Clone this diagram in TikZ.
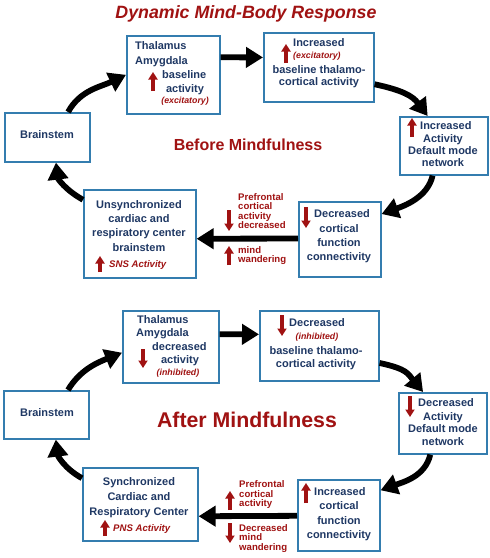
\documentclass[tikz,border=0pt]{standalone}
\usepackage{fontspec}
\setmainfont{Liberation Sans}
\usetikzlibrary{arrows.meta,calc}
\definecolor{navy}{RGB}{31,56,100}
\definecolor{dred}{RGB}{160,18,18}
\definecolor{boxblue}{RGB}{52,125,175}
\begin{document}
\begin{tikzpicture}[x=1pt,y=-1pt,
  box/.style={draw=boxblue,line width=1.6pt,fill=white,inner sep=0pt,anchor=north west},
  txt/.style={text=navy,font=\bfseries\fontsize{11}{14}\selectfont,inner sep=0pt},
  rtxt/.style={text=dred,font=\bfseries\fontsize{9.6}{9.4}\selectfont,inner sep=0pt,anchor=mid west},
  itxt/.style={text=dred,font=\bfseries\itshape\fontsize{8.8}{10}\selectfont,inner sep=0pt},
  stxt/.style={text=dred,font=\bfseries\itshape\fontsize{9.6}{10}\selectfont,inner sep=0pt,anchor=mid west},
  flow/.style={line width=5.8pt,-{Triangle[length=17pt,width=20pt]}},
  redarr/.style={draw=dred,line width=3.1pt,-{Triangle[length=7.5pt,width=9pt]}}]
\useasboundingbox (0,0) rectangle (490,558);
\fill[white] (0,0) rectangle (490,558);
% ================= TOP =================
\node[text=dred,font=\bfseries\itshape\fontsize{17.8}{20}\selectfont,inner sep=0pt,anchor=mid] (title) at (246,16) {Dynamic Mind-Body Response};
\node[text=dred,font=\bfseries\fontsize{16}{18}\selectfont,inner sep=0pt,anchor=mid] (before) at (248,148) {Before Mindfulness};
% boxes
\node[box,minimum width=93pt,minimum height=78pt] (thal1) at (126,35) {};
\node[box,minimum width=110pt,minimum height=69pt] (inc1) at (263,32) {};
\node[box,minimum width=85pt,minimum height=49pt] (brain1) at (4,112) {};
\node[box,minimum width=88pt,minimum height=58pt] (dmn1) at (399,116) {};
\node[box,minimum width=112pt,minimum height=88pt] (uns1) at (83,189) {};
\node[box,minimum width=82pt,minimum height=75pt] (dec1) at (298,201) {};
% thalamus 1
\node[txt,anchor=mid west] (t1a) at (135,47) {Thalamus};
\node[txt,anchor=mid west] (t1b) at (135,62) {Amygdala};
\node[txt,anchor=mid west] (t1c) at (162,76) {baseline};
\node[txt,anchor=mid] (t1d) at (185,90) {activity};
\node[itxt,anchor=mid east] (t1e) at (209,101) {(excitatory)};
\draw[redarr] (153,91) -- (153,72);
% increased 1
\node[txt,anchor=mid west] (i1a) at (293,44) {Increased};
\node[itxt,anchor=mid west] (i1b) at (293,56) {(excitatory)};
\node[txt,anchor=mid] (i1c) at (319,71) {baseline thalamo-};
\node[txt,anchor=mid] (i1d) at (319,83) {cortical activity};
\draw[redarr] (286,63) -- (286,44);
% brainstem 1
\node[txt,anchor=mid] (b1a) at (47,136) {Brainstem};
% dmn 1
\node[txt,anchor=mid west] (d1a) at (420,127) {Increased};
\node[txt,anchor=mid] (d1b) at (443,140) {Activity};
\node[txt,anchor=mid] (d1c) at (443,152) {Default mode};
\node[txt,anchor=mid] (d1d) at (443,164) {network};
\draw[redarr] (412,137) -- (412,118);
% unsynchronized
\node[txt,anchor=mid] (u1a) at (139,206) {Unsynchronized};
\node[txt,anchor=mid] (u1b) at (139,220) {cardiac and};
\node[txt,anchor=mid] (u1c) at (139,234) {respiratory center};
\node[txt,anchor=mid] (u1d) at (139,249) {brainstem};
\node[stxt] (u1e) at (109,265) {SNS Activity};
\draw[redarr] (100,272) -- (100,256);
% decreased cortical
\node[txt,anchor=mid west] (c1a) at (314,215) {Decreased};
\node[txt,anchor=mid] (c1b) at (339,230) {cortical};
\node[txt,anchor=mid] (c1c) at (339,244) {function};
\node[txt,anchor=mid] (c1d) at (339,258) {connectivity};
\draw[redarr] (306,207) -- (306,228);
% labels between
\node[rtxt] (p1a) at (238,198) {Prefrontal};
\node[rtxt] (p1b) at (238,207) {cortical};
\node[rtxt] (p1c) at (238,217) {activity};
\node[rtxt] (p1d) at (238,226) {decreased};
\draw[redarr] (229,210) -- (229,231);
\node[rtxt] (m1a) at (238,251) {mind};
\node[rtxt] (m1b) at (238,260) {wandering};
\draw[redarr] (229,265) -- (229,246);
% flow arrows top
\draw[flow] ($(brain1.north west)!0.74!(brain1.north east)$) .. controls +(12,-22) and +(-25,12) .. (thal1.west);
\draw[flow] ($(thal1.north east)!0.28!(thal1.south east)$) -- ($(inc1.north west)!0.36!(inc1.south west)$);
\draw[flow] ($(inc1.north east)!0.74!(inc1.south east)$) .. controls +(28,6) and +(-15,-20) .. ($(dmn1.north west)!0.32!(dmn1.north east)$);
\draw[flow] ($(dmn1.south west)!0.375!(dmn1.south east)$) .. controls +(-5,22) and +(22,-8) .. ($(dec1.north east)!0.17!(dec1.south east)$);
\draw[flow] ($(dec1.north west)!0.49!(dec1.south west)$) -- ($(uns1.north east)!0.555!(uns1.south east)$);
\draw[flow] ($(uns1.north west)!0.12!(uns1.south west)$) .. controls +(-18,-10) and +(2,16) .. ($(brain1.south west)!0.6!(brain1.south east)$);
% ================= BOTTOM =================
\node[text=dred,font=\bfseries\fontsize{21.3}{24}\selectfont,inner sep=0pt,anchor=mid] (after) at (247,425) {After Mindfulness};
\node[box,minimum width=96pt,minimum height=72pt] (thal2) at (122,310) {};
\node[box,minimum width=119pt,minimum height=70pt] (dec2) at (259,310) {};
\node[box,minimum width=85pt,minimum height=48pt] (brain2) at (3,390) {};
\node[box,minimum width=88pt,minimum height=61pt] (dmn2) at (398,392) {};
\node[box,minimum width=115pt,minimum height=73pt] (syn2) at (82,467) {};
\node[box,minimum width=82pt,minimum height=71pt] (inc2) at (297,479) {};
% thalamus 2
\node[txt,anchor=mid west] (t2a) at (137,321) {Thalamus};
\node[txt,anchor=mid west] (t2b) at (136,334) {Amygdala};
\node[txt,anchor=mid west] (t2c) at (152,348) {decreased};
\node[txt,anchor=mid] (t2d) at (180,361) {activity};
\node[itxt,anchor=mid] (t2e) at (178,373) {(inhibited)};
\draw[redarr] (143,349) -- (143,368);
% decreased 2
\node[txt,anchor=mid west] (e2a) at (289,324) {Decreased};
\node[itxt,anchor=mid] (e2b) at (317,337) {(inhibited)};
\node[txt,anchor=mid] (e2c) at (316,352) {baseline thalamo-};
\node[txt,anchor=mid] (e2d) at (316,365) {cortical activity};
\draw[redarr] (282,315) -- (282,336);
% brainstem 2
\node[txt,anchor=mid] (b2a) at (47,414) {Brainstem};
% dmn 2
\node[txt,anchor=mid west] (d2a) at (418,404) {Decreased};
\node[txt,anchor=mid] (d2b) at (443,418) {Activity};
\node[txt,anchor=mid] (d2c) at (443,430) {Default mode};
\node[txt,anchor=mid] (d2d) at (443,443) {network};
\draw[redarr] (410,396) -- (410,417);
% synchronized
\node[txt,anchor=mid] (s2a) at (139,483) {Synchronized};
\node[txt,anchor=mid] (s2b) at (139,498) {Cardiac and};
\node[txt,anchor=mid] (s2c) at (139,513) {Respiratory Center};
\node[stxt] (s2d) at (113,529) {PNS Activity};
\draw[redarr] (105,536) -- (105,520);
% increased cortical
\node[txt,anchor=mid west] (c2a) at (314,493) {Increased};
\node[txt,anchor=mid] (c2b) at (339,507) {cortical};
\node[txt,anchor=mid] (c2c) at (339,522) {function};
\node[txt,anchor=mid] (c2d) at (339,536) {connectivity};
\draw[redarr] (306,503) -- (306,483);
% labels between
\node[rtxt] (p2a) at (239,485) {Prefrontal};
\node[rtxt] (p2b) at (239,495) {cortical};
\node[rtxt] (p2c) at (239,504) {activity};
\draw[redarr] (230,510) -- (230,491);
\node[rtxt] (m2a) at (239,529) {Decreased};
\node[rtxt] (m2b) at (239,538) {mind};
\node[rtxt] (m2c) at (239,548) {wandering};
\draw[redarr] (230,523) -- (230,543);
% flow arrows bottom
\draw[flow] ($(brain2.north west)!0.75!(brain2.north east)$) .. controls +(12,-20) and +(-25,10) .. ($(thal2.north west)!0.58!(thal2.south west)$);
\draw[flow] ($(thal2.north east)!0.33!(thal2.south east)$) -- ($(dec2.north west)!0.34!(dec2.south west)$);
\draw[flow] ($(dec2.north east)!0.74!(dec2.south east)$) .. controls +(28,6) and +(-15,-18) .. ($(dmn2.north west)!0.28!(dmn2.north east)$);
\draw[flow] ($(dmn2.south west)!0.36!(dmn2.south east)$) .. controls +(-5,22) and +(22,-8) .. ($(inc2.north east)!0.155!(inc2.south east)$);
\draw[flow] ($(inc2.north west)!0.507!(inc2.south west)$) -- ($(syn2.north east)!0.66!(syn2.south east)$);
\draw[flow] ($(syn2.north west)!0.15!(syn2.south west)$) .. controls +(-18,-10) and +(2,16) .. ($(brain2.south west)!0.61!(brain2.south east)$);
\end{tikzpicture}
\end{document}
